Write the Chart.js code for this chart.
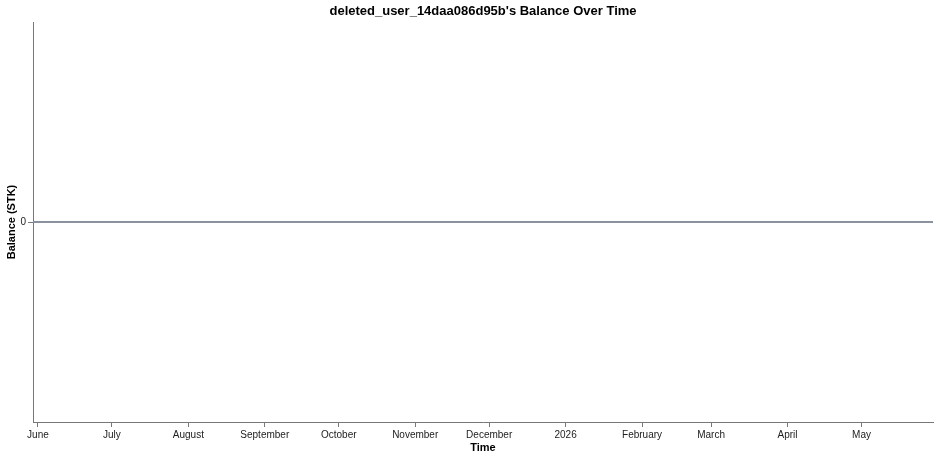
<!DOCTYPE html>
<html>
<head>
<meta charset="utf-8">
<script src="https://cdn.jsdelivr.net/npm/chart.js@4/dist/chart.umd.min.js"></script>
<style>
  html, body { margin:0; padding:0; background:#fff; }
  #wrap { width:940px; height:459px; position:relative; }
</style>
</head>
<body>
<div id="wrap"><canvas id="c"></canvas></div>
<script>
// ── data ──────────────────────────────────────────────
const TITLE = "deleted_user_14daa086d95b's Balance Over Time";
const dates   = ["2025-05-30", "2026-05-30"];
const balance = [0, 0];
const tickDates  = ["2025-06-01","2025-07-01","2025-08-01","2025-09-01","2025-10-01","2025-11-01",
                    "2025-12-01","2026-01-01","2026-02-01","2026-03-01","2026-04-01","2026-05-01"];
const tickLabels = ["June","July","August","September","October","November",
                    "December","2026","February","March","April","May"];
const yTicks = [0];

const FONT = "'Liberation Sans', Arial, sans-serif";
const AXIS = "#777";

// chart title centred over the plot area, not the whole canvas
const plotTitle = {
  id: "plotTitle",
  afterDraw(chart){
    const { ctx, chartArea:a } = chart;
    ctx.save();
    ctx.font = `bold 13px ${FONT}`;
    ctx.fillStyle = "#000";
    ctx.textAlign = "center";
    ctx.textBaseline = "middle";
    ctx.fillText(TITLE, (a.left + a.right) / 2, 11);
    ctx.restore();
  }
};

new Chart(document.getElementById("c"), {
  type: "line",
  data: {
    datasets: [{
      data: dates.map((d, i) => ({ x: Date.parse(d), y: balance[i] })),
      borderColor: "#8a929f",
      borderWidth: 2,
      pointRadius: 0,
      tension: 0,
    }]
  },
  options: {
    responsive: true, maintainAspectRatio: false, animation: false,
    devicePixelRatio: 1,
    layout: { padding: { top: 22, right: 7, left: 0, bottom: 0 } },
    plugins: { legend: { display: false }, tooltip: { enabled: false }, title: { display: false } },
    scales: {
      x: {
        type: "linear",
        min: Date.parse(dates[0]), max: Date.parse(dates[dates.length - 1]),
        afterBuildTicks: s => { s.ticks = tickDates.map(d => ({ value: Date.parse(d) })); },
        afterFit: s => { s.height = 37; },
        grid: { drawOnChartArea: false, tickLength: 5, color: AXIS },
        border: { color: AXIS },
        ticks: {
          autoSkip: false, maxRotation: 0, padding: 2, color: "#222",
          font: { family: FONT, size: 10 },
          callback: (v, i) => tickLabels[i],
        },
        title: { display: true, text: "Time", color: "#000",
          font: { family: FONT, size: 11, weight: "bold" }, padding: { top: 4, bottom: 4 } },
      },
      y: {
        min: -1, max: 1,
        afterBuildTicks: s => { s.ticks = yTicks.map(v => ({ value: v })); },
        afterFit: s => { s.width = 33; },
        grid: { drawOnChartArea: false, tickLength: 5, color: AXIS },
        border: { color: AXIS },
        ticks: { padding: 2, color: "#222", font: { family: FONT, size: 10 } },
        title: { display: true, text: "Balance (STK)", color: "#000",
          font: { family: FONT, size: 11, weight: "bold" }, padding: { top: 5, bottom: 4 } },
      },
    },
  },
  plugins: [plotTitle],
});
</script>
</body>
</html>
